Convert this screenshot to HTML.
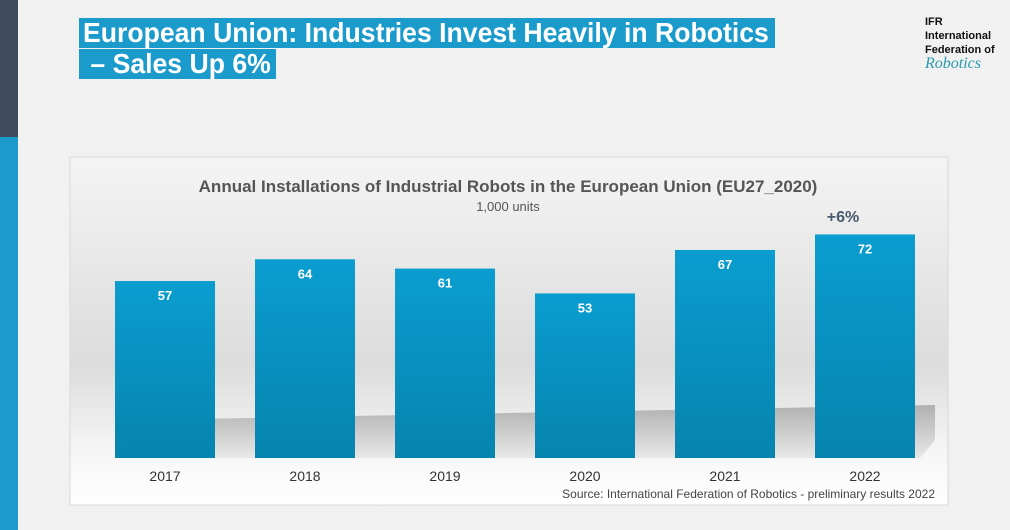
<!DOCTYPE html>
<html><head><meta charset="utf-8"><style>
body{margin:0;width:1010px;height:530px;background:#f1f1f1;font-family:"Liberation Sans",sans-serif;position:relative;overflow:hidden}
.t{position:absolute;background:#1b9bcc;color:#fff;font-weight:bold;font-size:26px;line-height:29px;padding:0 4px;white-space:nowrap;overflow:hidden}
</style></head><body>
<div style="position:absolute;left:0;top:0;width:18px;height:137px;background:#3e4b5c"></div>
<div style="position:absolute;left:0;top:137px;width:18px;height:393px;background:#1b9bcc"></div>
<div class="t" style="left:79px;top:18px;width:688px"><span style="display:inline-block;transform:scaleX(0.95);transform-origin:left;font-size:28px">European Union: Industries Invest Heavily in Robotics</span></div>
<div class="t" style="left:79px;top:49px;width:189px"><span style="display:inline-block;transform:scaleX(0.95);transform-origin:left;font-size:28px">&nbsp;– Sales Up 6%</span></div>
<div style="position:absolute;left:925px;top:15px;font-size:11px;line-height:14px;font-weight:bold;color:#111">IFR<br>International<br>Federation of<br><span style="color:#2a9ab0;font-style:italic;font-weight:normal;font-family:'Liberation Serif',serif;font-size:16px">Robotics</span></div>
<svg style="position:absolute;left:0;top:0" width="1010" height="530">
<defs>
<linearGradient id="bg" x1="0" y1="0" x2="0" y2="1"><stop offset="0" stop-color="#f4f4f4"/><stop offset="0.6" stop-color="#dcdcdc"/><stop offset="0.85" stop-color="#f6f6f6"/><stop offset="1" stop-color="#fff"/></linearGradient>
<linearGradient id="bar" x1="0" y1="0" x2="0" y2="1"><stop offset="0" stop-color="#0a9dd0"/><stop offset="1" stop-color="#0684ae"/></linearGradient>
<linearGradient id="sh" x1="0" y1="0" x2="0" y2="1"><stop offset="0" stop-color="#b0b0b0"/><stop offset="1" stop-color="#e8e8e8"/></linearGradient>
</defs>
<rect x="70" y="157" width="878" height="348" fill="url(#bg)" stroke="#d8d8d8"/>
<polygon points="140,420 935,405 935,440 920,458 140,458" fill="url(#sh)"/>
<text x="508" y="192" text-anchor="middle" font-size="17" font-weight="bold" fill="#555">Annual Installations of Industrial Robots in the European Union (EU27_2020)</text>
<text x="508" y="211" text-anchor="middle" font-size="13" fill="#555">1,000 units</text>
<text x="843" y="222" text-anchor="middle" font-size="16" font-weight="bold" fill="#4a5a70">+6%</text>
<text x="935" y="498" text-anchor="end" font-size="12" fill="#444">Source: International Federation of Robotics - preliminary results 2022</text>
<g id="bars"></g>
</svg>
<script>
const years=["2017","2018","2019","2020","2021","2022"];
const values=[57,64,61,53,67,72];
const labels=["57","64","61","53","67","72"];
const g=document.getElementById('bars');
const NS="http://www.w3.org/2000/svg";
const base=458,scale=3.105,x0=115,pitch=140,bw=100;
function xs(i){return x0+i*pitch;}
function ys(v){return base-v*scale;}
years.forEach((y,i)=>{
 const r=document.createElementNS(NS,'rect');
 
 
 r.setAttribute('x',xs(i));r.setAttribute('y',ys(values[i]));
 r.setAttribute('width',bw);r.setAttribute('height',base-ys(values[i]));
 r.setAttribute('fill','url(#bar)');g.appendChild(r);
 const t=document.createElementNS(NS,'text');
 
 
 t.setAttribute('x',xs(i)+bw/2);t.setAttribute('y',ys(values[i])+19);
 t.setAttribute('text-anchor','middle');t.setAttribute('font-size','13');t.setAttribute('font-weight','bold');t.setAttribute('fill','#fff');
 t.textContent=labels[i];g.appendChild(t);
 const a=document.createElementNS(NS,'text');
 
 
 a.setAttribute('x',xs(i)+bw/2);a.setAttribute('y',481);
 a.setAttribute('text-anchor','middle');a.setAttribute('font-size','14');a.setAttribute('fill','#333');
 a.textContent=y;g.appendChild(a);
});
</script>
</body></html>
